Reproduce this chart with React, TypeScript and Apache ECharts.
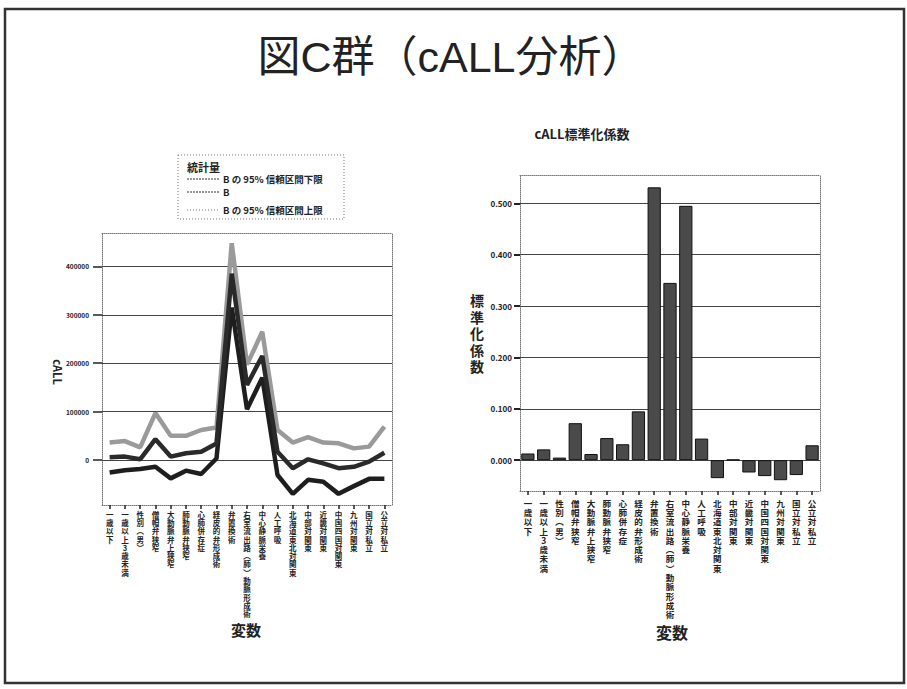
import React, { useEffect, useRef } from "react";
import * as echarts from "echarts";

const categories = [
  "一歳以下",
  "一歳以上3歳未満",
  "性別(男)",
  "僧帽弁狭窄",
  "大動脈弁上狭窄",
  "肺動脈弁狭窄",
  "心肺併存症",
  "経皮的弁形成術",
  "弁置換術",
  "右室流出路(肺)動脈形成術",
  "中心静脈栄養",
  "人工呼吸",
  "北海道東北対関東",
  "中部対関東",
  "近畿対関東",
  "中国四国対関東",
  "九州対関東",
  "国立対私立",
  "公立対私立",
];

const lowerCI = [-26000, -21000, -18600, -14000, -38000, -22000, -29000, 3000, 315000, 105000, 170000, -31000, -70000, -41000, -45000, -70000, -54000, -39000, -39000];
const estimateB = [5500, 7000, 1400, 43000, 7000, 14000, 17000, 34000, 385000, 155000, 215000, 17000, -17000, 1400, -7000, -17000, -14000, -3500, 15000];
const upperCI = [36000, 39000, 26000, 97000, 50000, 50000, 62000, 67000, 448000, 197000, 265000, 62000, 36000, 47000, 36000, 34500, 24000, 27600, 69000];

const stdCoef = [0.013, 0.021, 0.005, 0.072, 0.012, 0.043, 0.031, 0.095, 0.531, 0.345, 0.495, 0.042, -0.035, 0.001, -0.024, -0.031, -0.039, -0.029, 0.029];

const leftTicks = [0, 100000, 200000, 300000, 400000];
const rightTicks = [0, 0.1, 0.2, 0.3, 0.4, 0.5];

const legendLabels = ["B の 95% 信頼区間下限", "B", "B の 95% 信頼区間上限"];

const FONT = "'Noto Sans CJK JP', 'Liberation Sans', sans-serif";
const TITLE_FONT = "'Liberation Sans', 'Noto Sans CJK JP', sans-serif";

const vertical = (s: string) =>
  s.replace(/\(/g, "︵").replace(/\)/g, "︶").split("").join("\n");

export default function App() {
  const ref = useRef<HTMLDivElement>(null);

  useEffect(() => {
    if (!ref.current) return;
    const chart = echarts.init(ref.current, null, { renderer: "svg" });

    const dotted = { show: true, lineStyle: { color: "#777", type: "dotted" as const, width: 1 } };

    const option: any = {
      animation: false,
      backgroundColor: "#fff",
      textStyle: { fontFamily: FONT },
      grid: [
        { left: 102, right: 515, top: 233, bottom: 184 },
        { left: 520, right: 87, top: 175, bottom: 198 },
      ],
      xAxis: [
        {
          type: "category",
          gridIndex: 0,
          data: categories,
          position: "bottom",
          axisLine: { ...dotted, onZero: false },
          axisTick: { show: true, alignWithLabel: true, length: 4, lineStyle: { color: "#222", width: 1.5 } },
          axisLabel: {
            interval: 0,
            margin: 5,
            formatter: vertical,
            fontSize: 7.5,
            lineHeight: 8.3,
            fontWeight: "bold",
            color: "#222",
            verticalAlign: "top",
            fontFamily: FONT,
          },
          splitLine: { show: false },
        },
        {
          type: "category",
          gridIndex: 0,
          data: categories,
          position: "top",
          axisLine: { ...dotted, onZero: false },
          axisTick: { show: false },
          axisLabel: { show: false },
        },
        {
          type: "category",
          gridIndex: 1,
          data: categories,
          position: "bottom",
          axisLine: { ...dotted, onZero: false },
          axisTick: { show: true, alignWithLabel: true, length: 4, lineStyle: { color: "#222", width: 1.5 } },
          axisLabel: {
            interval: 0,
            margin: 7,
            formatter: vertical,
            fontSize: 8.5,
            lineHeight: 9.3,
            fontWeight: "bold",
            color: "#222",
            verticalAlign: "top",
            fontFamily: FONT,
          },
        },
        {
          type: "category",
          gridIndex: 1,
          data: categories,
          position: "top",
          axisLine: { ...dotted, onZero: false },
          axisTick: { show: false },
          axisLabel: { show: false },
        },
      ],
      yAxis: [
        {
          type: "value",
          gridIndex: 0,
          min: -93000,
          max: 469000,
          position: "left",
          axisLine: { ...dotted, onZero: false },
          axisTick: { show: true, length: 9, customValues: leftTicks, lineStyle: { color: "#222", width: 1.5 } },
          axisLabel: {
            customValues: leftTicks,
            margin: 13,
            fontSize: 6.5,
            fontWeight: "bold",
            color: "#222",
            fontFamily: FONT,
            formatter: (v: number) => String(v),
          },
          splitLine: { show: false },
        },
        {
          type: "value",
          gridIndex: 0,
          min: -93000,
          max: 469000,
          position: "right",
          axisLine: { ...dotted, onZero: false },
          axisTick: { show: false },
          axisLabel: { show: false },
          splitLine: { show: false },
        },
        {
          type: "value",
          gridIndex: 1,
          min: -0.06,
          max: 0.555,
          position: "left",
          axisLine: { ...dotted, onZero: false },
          axisTick: { show: true, length: 6, customValues: rightTicks, lineStyle: { color: "#222", width: 2 } },
          axisLabel: {
            customValues: rightTicks,
            margin: 8,
            fontSize: 8,
            fontWeight: "bold",
            color: "#222",
            fontFamily: FONT,
            formatter: (v: number) => v.toFixed(3),
          },
          splitLine: { show: false },
        },
        {
          type: "value",
          gridIndex: 1,
          min: -0.06,
          max: 0.555,
          position: "right",
          axisLine: { ...dotted, onZero: false },
          axisTick: { show: false },
          axisLabel: { show: false },
          splitLine: { show: false },
        },
      ],
      series: [
        {
          name: "gridLeft",
          type: "line",
          xAxisIndex: 0,
          yAxisIndex: 0,
          data: [],
          z: 1,
          silent: true,
          markLine: {
            silent: true,
            symbol: "none",
            z: 1,
            label: { show: false },
            lineStyle: { color: "#444", type: "solid", width: 1.2 },
            data: leftTicks.map((v) => ({ yAxis: v })),
          },
        },
        {
          name: legendLabels[2],
          type: "line",
          xAxisIndex: 0,
          yAxisIndex: 0,
          data: upperCI,
          showSymbol: false,
          symbol: "none",
          z: 3,
          lineStyle: { color: "#9a9a9a", width: 4.5 },
        },
        {
          name: legendLabels[0],
          type: "line",
          xAxisIndex: 0,
          yAxisIndex: 0,
          data: lowerCI,
          showSymbol: false,
          symbol: "none",
          z: 4,
          lineStyle: { color: "#1e1e1e", width: 4.5 },
        },
        {
          name: legendLabels[1],
          type: "line",
          xAxisIndex: 0,
          yAxisIndex: 0,
          data: estimateB,
          showSymbol: false,
          symbol: "none",
          z: 5,
          lineStyle: { color: "#2a2a2a", width: 4.5 },
        },
        {
          name: "標準化係数",
          type: "bar",
          xAxisIndex: 2,
          yAxisIndex: 2,
          data: stdCoef,
          barCategoryGap: "16%",
          z: 3,
          itemStyle: { color: "#4a4a4a", borderColor: "#111", borderWidth: 1 },
          markLine: {
            silent: true,
            symbol: "none",
            z: 1,
            label: { show: false },
            lineStyle: { color: "#444", type: "solid", width: 1.2 },
            data: rightTicks.map((v) => ({ yAxis: v })),
          },
        },
      ],
      graphic: [
        {
          type: "rect",
          shape: { x: 5, y: 9, width: 899, height: 674 },
          style: { fill: "none", stroke: "#333", lineWidth: 2.5 },
          silent: true,
        },
        {
          type: "text",
          x: 451,
          y: 57,
          style: {
            text: "図C群（cALL分析）",
            font: `normal 43px ${TITLE_FONT}`,
            fill: "#222",
            textAlign: "center",
            textVerticalAlign: "middle",
          },
        },
        {
          type: "text",
          x: 582,
          y: 133,
          style: {
            text: "cALL標準化係数",
            font: `bold 13px ${FONT}`,
            fill: "#222",
            textAlign: "center",
            textVerticalAlign: "middle",
          },
        },
        {
          type: "text",
          x: 477,
          y: 333,
          style: {
            text: "標\n準\n化\n係\n数",
            font: `bold 14px ${FONT}`,
            lineHeight: 16.5,
            fill: "#222",
            textAlign: "center",
            textVerticalAlign: "middle",
          },
        },
        {
          type: "text",
          x: 58,
          y: 372,
          rotation: -Math.PI / 2,
          style: {
            text: "cALL",
            font: `bold 11px ${FONT}`,
            fill: "#222",
            textAlign: "center",
            textVerticalAlign: "middle",
          },
        },
        {
          type: "text",
          x: 246,
          y: 629,
          style: {
            text: "変数",
            font: `bold 15px ${FONT}`,
            fill: "#222",
            textAlign: "center",
            textVerticalAlign: "middle",
          },
        },
        {
          type: "text",
          x: 672,
          y: 632,
          style: {
            text: "変数",
            font: `bold 16px ${FONT}`,
            fill: "#222",
            textAlign: "center",
            textVerticalAlign: "middle",
          },
        },
        {
          type: "group",
          x: 178,
          y: 155,
          children: [
            {
              type: "rect",
              shape: { x: 0, y: 0, width: 166, height: 64 },
              style: { fill: "#fff", stroke: "#777", lineWidth: 1, lineDash: [1, 2] },
            },
            {
              type: "text",
              x: 9,
              y: 12,
              style: {
                text: "統計量",
                font: `bold 11px ${FONT}`,
                fill: "#222",
                textVerticalAlign: "middle",
              },
            },
            ...legendLabels.flatMap((label, i) => {
              const yy = [24, 37, 55][i];
              const dash = [[2, 1], [2, 1], [1, 2]][i];
              const col = ["#333", "#333", "#777"][i];
              return [
                {
                  type: "line",
                  shape: { x1: 9, y1: yy, x2: 42, y2: yy },
                  style: { stroke: col, lineWidth: 1, lineDash: dash },
                },
                {
                  type: "text",
                  x: 45,
                  y: yy,
                  style: {
                    text: label,
                    font: `bold 9.5px ${FONT}`,
                    fill: "#222",
                    textVerticalAlign: "middle",
                  },
                },
              ];
            }),
          ],
        },
      ],
    };

    chart.setOption(option);
    return () => chart.dispose();
  }, []);

  return (
    <div
      ref={ref}
      style={{ position: "absolute", left: 0, top: 0, width: 907, height: 689 }}
    />
  );
}
